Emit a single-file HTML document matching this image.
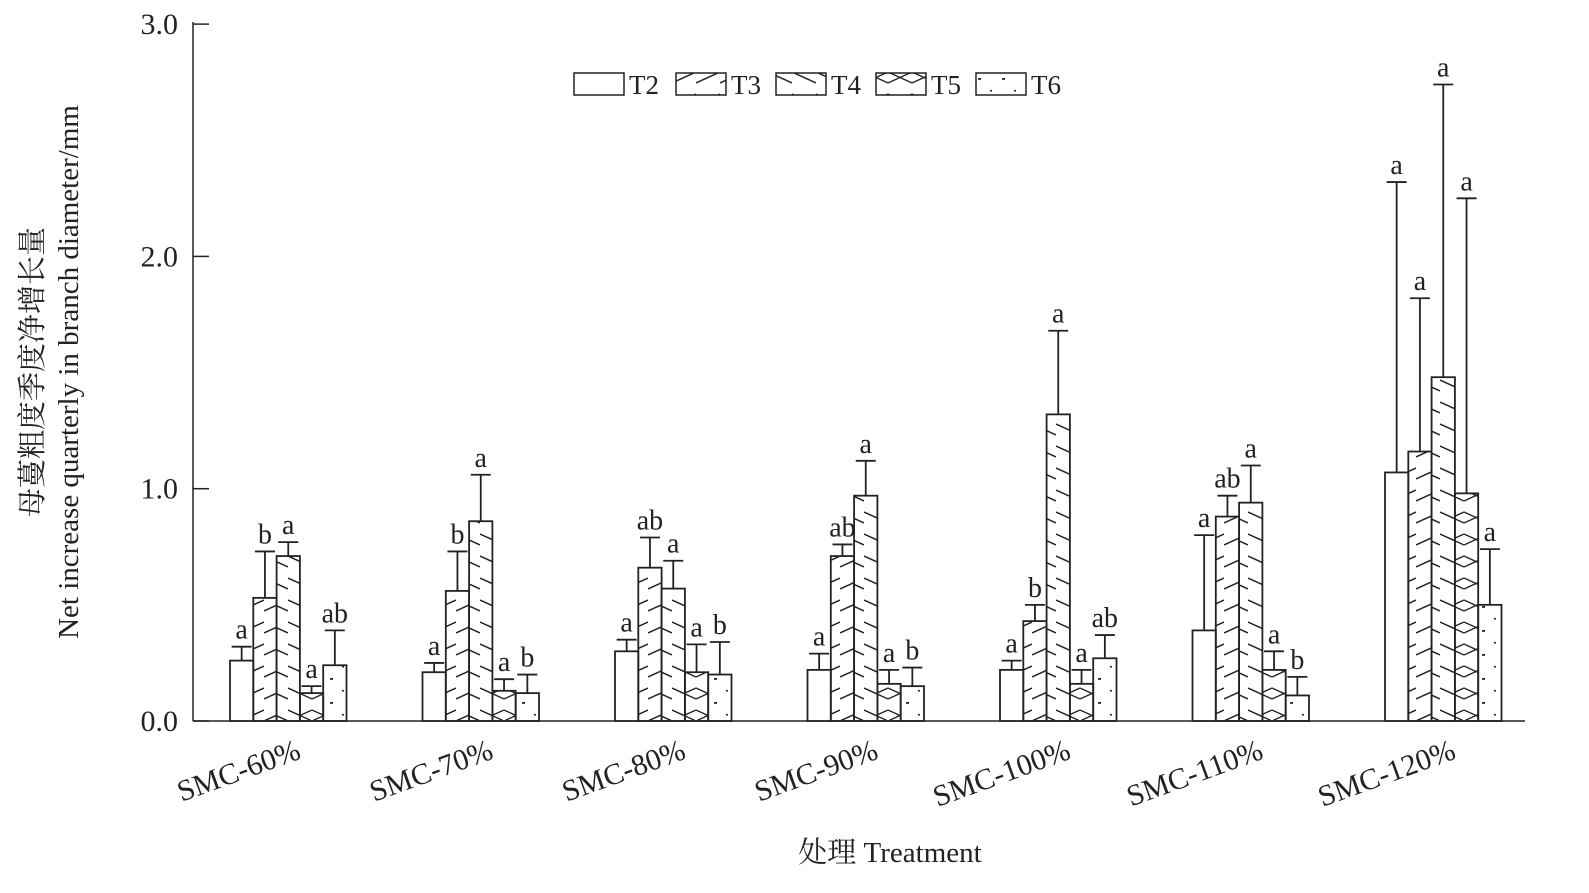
<!DOCTYPE html>
<html><head><meta charset="utf-8"><style>
body{margin:0;background:#fff}
svg text{font-family:"Liberation Serif","Noto Serif CJK SC",serif;fill:#222}
</style></head><body>
<svg width="1589" height="888" viewBox="0 0 1589 888">
<defs>
<pattern id="p3" patternUnits="userSpaceOnUse" width="24" height="22"><path d="M0 17 L24 6" stroke="#222" stroke-width="1.5" fill="none"/></pattern>
<pattern id="p4" patternUnits="userSpaceOnUse" width="24" height="22"><path d="M0 6 L24 17" stroke="#222" stroke-width="1.5" fill="none"/></pattern>
<pattern id="p5" patternUnits="userSpaceOnUse" width="24" height="22"><path d="M0 6 L24 17 M0 17 L24 6" stroke="#222" stroke-width="1.3" fill="none"/></pattern>
<pattern id="p6" patternUnits="userSpaceOnUse" width="24" height="24"><rect x="18" y="6" width="3" height="1.8" fill="#222"/><rect x="6" y="18" width="2" height="1.5" fill="#222"/></pattern>
</defs>
<g id="axes"></g>
<g id="bars"></g>
<g id="legend"></g>
<text x="890" y="862" font-size="29" text-anchor="middle">处理  Treatment</text>
<text transform="translate(42,372) rotate(-90)" font-size="29" text-anchor="middle">母蔓粗度季度净增长量</text>
<text transform="translate(78,372) rotate(-90)" font-size="29" text-anchor="middle">Net increase quarterly in branch diameter/mm</text>
</svg>
<script>
const categories=["SMC-60%","SMC-70%","SMC-80%","SMC-90%","SMC-100%","SMC-110%","SMC-120%"];
const seriesNames=["T2","T3","T4","T5","T6"];
const T2=[0.26,0.21,0.30,0.22,0.22,0.39,1.07];
const T3=[0.53,0.56,0.66,0.71,0.43,0.88,1.16];
const T4=[0.71,0.86,0.57,0.97,1.32,0.94,1.48];
const T5=[0.12,0.13,0.21,0.16,0.16,0.22,0.98];
const T6=[0.24,0.12,0.20,0.15,0.27,0.11,0.50];
const E2=[0.32,0.25,0.35,0.29,0.26,0.80,2.32];
const E3=[0.73,0.73,0.79,0.76,0.50,0.97,1.82];
const E4=[0.77,1.06,0.69,1.12,1.68,1.10,2.74];
const E5=[0.15,0.18,0.33,0.22,0.22,0.30,2.25];
const E6=[0.39,0.20,0.34,0.23,0.37,0.19,0.74];
const L2=["a","a","a","a","a","a","a"];
const L3=["b","b","ab","ab","b","ab","a"];
const L4=["a","a","a","a","a","a","a"];
const L5=["a","a","a","a","a","a","a"];
const L6=["ab","b","b","b","ab","b","a"];
const yTicks=[0,1,2,3];
const yTickLabels=["0.0","1.0","2.0","3.0"];
const NS="http://www.w3.org/2000/svg";
const y=v=>721-v*232.3;
const x=(g,s)=>230+g*192.5+s*23.3;
const BW=23.3;
function mk(t,a,p){const e=document.createElementNS(NS,t);for(const k in a)e.setAttribute(k,a[k]);p.appendChild(e);return e;}
const ax=document.getElementById('axes');
const yl=mk('line',{x1:193,y1:721,x2:193,y2:22,stroke:'#222','stroke-width':1.5},ax);


const xl=mk('line',{x1:193,y1:721,x2:1525,y2:721,stroke:'#222','stroke-width':1.5},ax);


yTicks.forEach((t,i)=>{
 mk('line',{x1:193,x2:209,y1:y(t),y2:y(t),stroke:'#222','stroke-width':1.5},ax);
 const tx=mk('text',{x:178,y:y(t)+10,'font-size':30,'text-anchor':'end'},ax);tx.textContent=yTickLabels[i];
 
 
});
categories.forEach((c,g)=>{
 const cx=x(g,2.5);
 const tx=mk('text',{transform:`translate(${cx+14},${758}) rotate(-20)`,'font-size':30,'text-anchor':'end'},ax);tx.textContent=c;
 
 
});
const vals=[T2,T3,T4,T5,T6],errs=[E2,E3,E4,E5,E6],lets=[L2,L3,L4,L5,L6];
const fills=['#fff','url(#p3)','url(#p4)','url(#p5)','url(#p6)'];
const bg=document.getElementById('bars');
categories.forEach((c,g)=>{
 vals.forEach((sv,s)=>{
  const x0=x(g,s),v=sv[g],e=errs[s][g],cx=x0+BW/2;
  const r=mk('rect',{x:x0,y:y(v),width:BW,height:721-y(v),fill:fills[s],stroke:'#222','stroke-width':1.8},bg);
  
  
  mk('line',{x1:cx,x2:cx,y1:y(v),y2:y(e),stroke:'#222','stroke-width':1.8},bg);
  mk('line',{x1:cx-10,x2:cx+10,y1:y(e),y2:y(e),stroke:'#222','stroke-width':1.8},bg);
  const t=mk('text',{x:cx,y:y(e)-8,'font-size':28,'text-anchor':'middle'},bg);t.textContent=lets[s][g];
  
  
 });
});
const lg=document.getElementById('legend');
const lx=[574,676,776,876,976];
seriesNames.forEach((n,i)=>{
 const r=mk('rect',{x:lx[i],y:73,width:50,height:22,fill:fills[i],stroke:'#222','stroke-width':1.5},lg);
 
 
 const t=mk('text',{x:lx[i]+55,y:94,'font-size':27},lg);t.textContent=n;
 
 
});
</script>
</body></html>
